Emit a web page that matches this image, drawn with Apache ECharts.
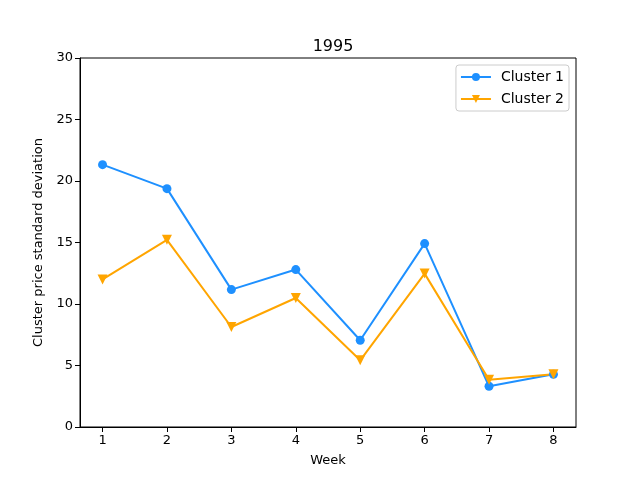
<!DOCTYPE html>
<html><head><meta charset="utf-8">
<script src="https://cdn.jsdelivr.net/npm/echarts@6/dist/echarts.min.js"></script>
<style>html,body{margin:0;padding:0;background:#fff}#c{width:640px;height:480px}</style>
</head><body><div id="c"></div>
<script>
var weeks = [1,2,3,4,5,6,7,8];
var cluster1 = [21.33, 19.38, 11.17, 12.8, 7.05, 14.91, 3.31, 4.28];
var cluster2 = [12.0, 15.22, 8.13, 10.49, 5.42, 12.47, 3.85, 4.28];
var yTicks = [0,5,10,15,20,25,30];
var title = '1995';

var chart = echarts.init(document.getElementById('c'), null, {renderer:'canvas'});
var font = 'DejaVu Sans';
function pairs(v){ return weeks.map(function(w,i){return [w, v[i]];}); }
chart.setOption({
  animation:false,
  backgroundColor:'#fff',
  textStyle:{fontFamily:font},
  title:{text:title, left:328, textAlign:'center', top:34, textStyle:{fontFamily:font, fontSize:16, fontWeight:'normal', color:'#000'}},
  grid:{left:80, right:64, top:58, bottom:53, show:true, borderColor:'#000', borderWidth:1, backgroundColor:'transparent'},
  legend:{
    orient:'vertical', right:71, top:65, itemWidth:30, itemHeight:10, itemGap:8,
    backgroundColor:'#fff', borderColor:'#ccc', borderWidth:1, borderRadius:3, padding:[5,5,5,4],
    textStyle:{fontFamily:font, fontSize:14, color:'#000', padding:[0,0,0,5]},
    data:['Cluster 1','Cluster 2']
  },
  xAxis:{
    type:'value', min:0.65, max:8.35, name:'Week', nameLocation:'middle', nameGap:27,
    nameTextStyle:{fontFamily:font, fontSize:13, color:'#000'},
    splitLine:{show:false},
    axisLine:{show:true, lineStyle:{color:'#000', width:1}},
    axisTick:{show:true, inside:false, length:5, lineStyle:{color:'#000'}, customValues:weeks},
    axisLabel:{color:'#000', fontFamily:font, fontSize:13, margin:7, customValues:weeks}
  },
  yAxis:{
    type:'value', min:0, max:30, interval:5, name:'Cluster price standard deviation', nameLocation:'middle', nameGap:33,
    nameTextStyle:{fontFamily:font, fontSize:13, color:'#000'},
    splitLine:{show:false},
    axisLine:{show:true, lineStyle:{color:'#000', width:1}},
    axisTick:{show:true, length:5, lineStyle:{color:'#000'}},
    axisLabel:{color:'#000', fontFamily:font, fontSize:13, margin:7}
  },
  series:[
    {name:'Cluster 1', type:'line', data:pairs(cluster1), color:'#1E90FF', symbol:'circle', symbolSize:9,
     lineStyle:{width:2, color:'#1E90FF'}, itemStyle:{color:'#1E90FF'}},
    {name:'Cluster 2', type:'line', data:pairs(cluster2), color:'#FFA500', symbol:'triangle', symbolRotate:180, symbolSize:10,
     lineStyle:{width:2, color:'#FFA500'}, itemStyle:{color:'#FFA500'}}
  ]
});
</script></body></html>
